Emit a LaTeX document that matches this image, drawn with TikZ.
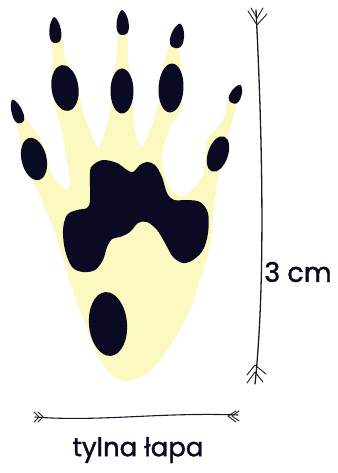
\documentclass[tikz,border=0pt]{standalone}
\usepackage{fontspec}
\setmainfont{Poppins}[FakeBold=1.4]
\definecolor{skin}{HTML}{FBF8C0}
\definecolor{padink}{HTML}{0A0A22}
\definecolor{penink}{HTML}{1A1A2A}
% teardrop claw: bottom point (x,y), tilt, length, half width
\newcommand\pawclaw[5]{%
  \fill[padfill, shift={(#1,#2)}, rotate=#3]
    (0,-#4) .. controls (0.3*#5,-#4) and (#5,-0.72*#4) .. (#5,-0.36*#4)
    .. controls (#5,-0.08*#4) and (0.6*#5,0) .. (0,0)
    .. controls (-0.6*#5,0) and (-#5,-0.08*#4) .. (-#5,-0.36*#4)
    .. controls (-#5,-0.72*#4) and (-0.3*#5,-#4) .. (0,-#4) -- cycle;}
\begin{document}
\begin{tikzpicture}[x=1pt,y=-1pt,
  padfill/.style={fill=padink},
  skinfill/.style={fill=skin},
  measure/.style={draw=penink, line width=1.3pt, line cap=round, line join=round},
  fletch/.style={draw=penink, line width=0.9pt, line cap=round, line join=round},
  label/.style={text=padink, inner sep=0pt}]
\useasboundingbox (0,0) rectangle (337,473);

% foot outline
\fill[skinfill] plot[smooth cycle, tension=0.5] coordinates {
  (16,118) (19,135) (24,158) (30,175) (38,192) (46,210) (53,228) (61,252)
  (72,288) (83,318) (95,350) (110,374) (127,381) (150,371) (172,343)
  (189,312) (200,280) (207,258) (212,233) (214,205) (218,180) (223,155)
  (230,128) (237,103) (229,99) (222,122) (207,140) (204,172) (194,188)
  (182,196) (170,188) (163,170) (163,150) (170,128) (181,108) (183,88)
  (181,65) (178,45) (170,45) (165,60) (160,80) (158,105) (152,125)
  (146,140) (140,147) (135,132) (133,110) (131,80) (128,60) (127,33)
  (119,33) (116,60) (112,80) (110,110) (104,135) (98,148) (92,135)
  (84,115) (79,95) (72,72) (64,55) (63,42) (52,42) (53,58) (52,80)
  (56,110) (62,132) (67,160) (70,180) (68,190) (57,182) (49,168)
  (45,148) (33,128) (25,117)};

% claws
\pawclaw{21}{123}{20}{25}{5.5}
\pawclaw{56}{43}{4}{26}{6}
\pawclaw{123}{35}{2}{25}{6.2}
\pawclaw{175}{48}{-12}{25}{6.8}
\pawclaw{232}{103}{-25}{20}{5.8}

% toe pads
\fill[padfill, rotate around={13:(34,159)}] (34,159) ellipse [x radius=12.5, y radius=21.5];
\fill[padfill, rotate around={8:(65,88)}] (65,88) ellipse [x radius=13.5, y radius=23];
\fill[padfill] (122,91) ellipse [x radius=11.5, y radius=22.5];
\fill[padfill, rotate around={-3:(171,88)}] (171,88) ellipse [x radius=12.5, y radius=24.5];
\fill[padfill, rotate around={-19:(218,154)}] (218,154) ellipse [x radius=10, y radius=18.5];

% main pad
\fill[padfill] plot[smooth cycle, tension=0.55] coordinates {
  (90,172) (93,165) (103,160) (117,163) (127,170) (133,172) (140,165)
  (147,162) (155,165) (162,177) (167,193) (174,200) (187,200) (200,202)
  (208,213) (208,233) (203,250) (193,260) (183,263) (173,257) (165,243)
  (157,230) (147,222) (138,223) (130,232) (120,237) (112,239) (107,247)
  (103,260) (95,270) (83,272) (72,267) (65,250) (63,230) (67,215)
  (77,210) (87,208) (90,200)};

% heel pad
\fill[padfill, rotate around={5:(108,324)}] (108,324) ellipse [x radius=19, y radius=32];

% vertical measure
\coordinate (vtop) at (256,10);
\coordinate (vbot) at (255,384);
\path[measure] (vtop) .. controls (262,130) and (266,280) .. (vbot);
\path[fletch] (248,11) -- (257,25) -- (267,14);
\path[fletch] (251,8) -- (257,18) -- (263,8);
\path[fletch] (247,375) -- (255,365) -- (266,374);
\path[fletch] (247,383) -- (255,372) -- (263,382);

% horizontal measure
\coordinate (hleft) at (35,417);
\coordinate (hright) at (238,415);
\path[measure, line width=1.1pt] (hleft) .. controls (100,422) and (160,412) .. (hright);
\path[fletch] (34,412) -- (39,417) -- (34,422);
\path[fletch] (38,412) -- (43,417) -- (38,422);
\path[fletch] (236,411) -- (228,416) -- (236,422);
\path[fletch] (239,411) -- (232,416) -- (239,421);

% labels
\node[label, font=\fontsize{27}{30}\selectfont] (len) at (298,272) {3 cm};
\node[label, font=\fontsize{26}{30}\selectfont] (name) at (138,450) {tylna łapa};
\end{tikzpicture}
\end{document}
